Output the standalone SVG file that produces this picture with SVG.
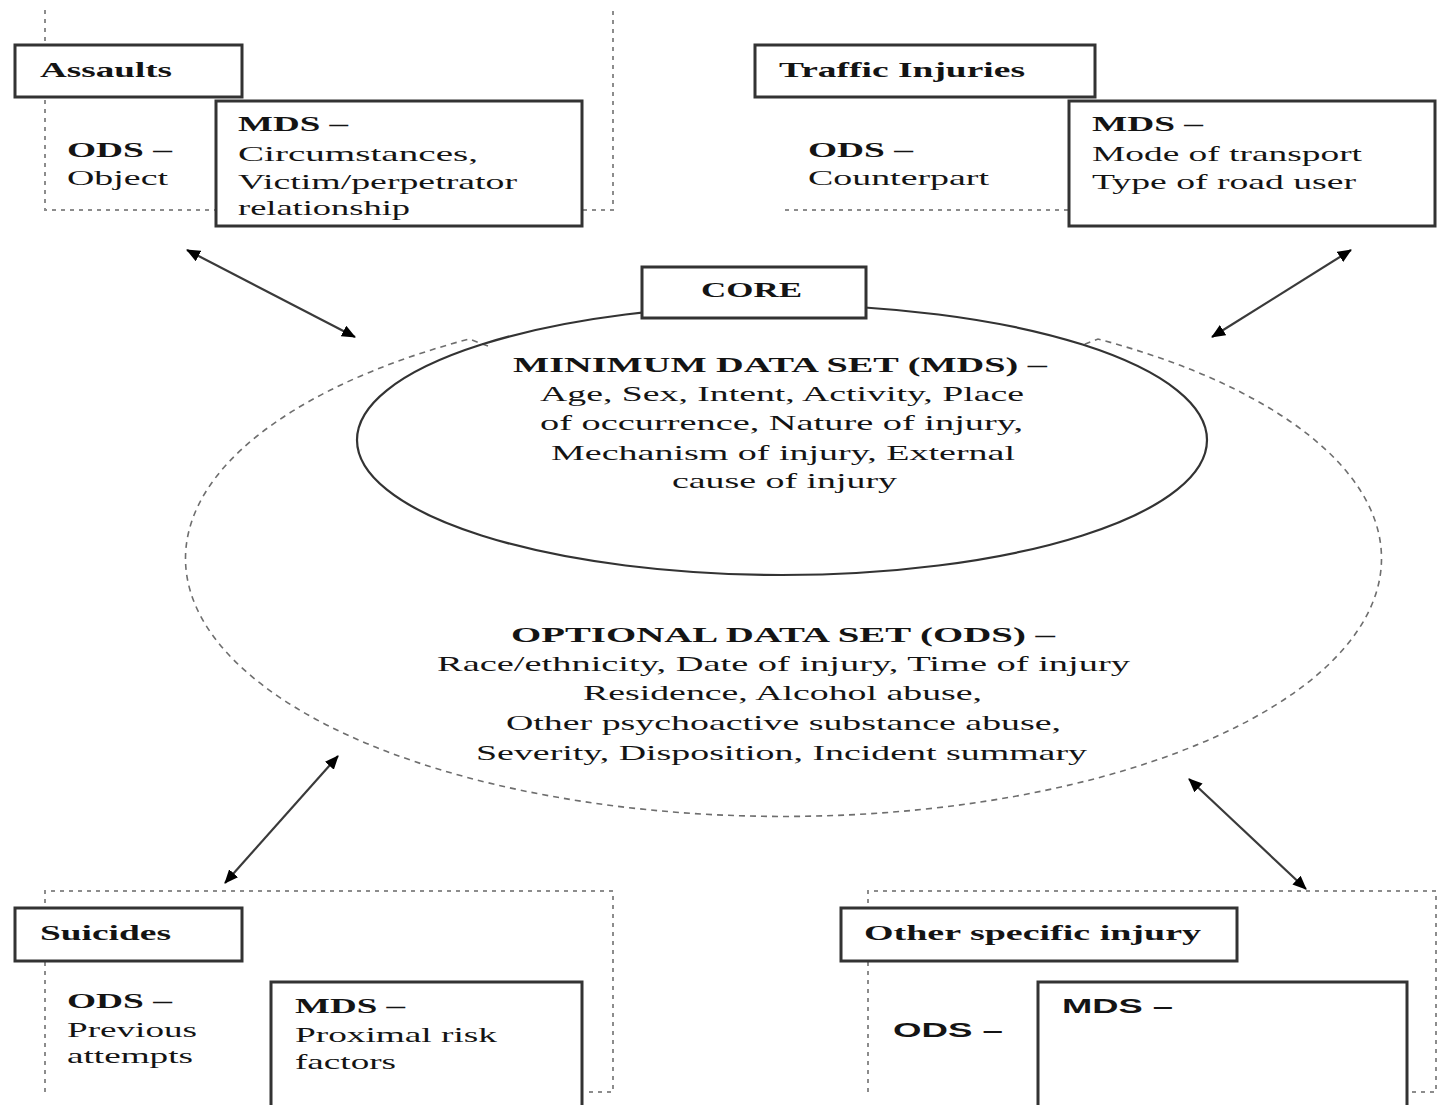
<svg xmlns="http://www.w3.org/2000/svg" width="1437" height="1105" viewBox="0 0 1437 1105">
  <style>
    .box { fill: #fff; stroke: #333; stroke-width: 3; }
    .frame { fill: none; stroke: #8c8c8c; stroke-width: 2; stroke-dasharray: 4 5; }
    .outer { fill: none; stroke: #6e6e6e; stroke-width: 1.6; stroke-dasharray: 6 5; }
    .inner { fill: none; stroke: #333; stroke-width: 2.2; }
    .link { stroke: #3a3a3a; stroke-width: 2.2; fill: none; marker-start: url(#head); marker-end: url(#head); }
    text { font-family: "Liberation Serif", "Times New Roman", serif; font-size: 22px; fill: #141414; }
    .h { font-weight: bold; }
    .s { font-family: "Liberation Sans", Arial, sans-serif; font-weight: bold; font-size: 20px; }
  </style>
  <defs>
    <marker id="head" viewBox="0 0 14 12" refX="13" refY="6" markerWidth="14" markerHeight="12" markerUnits="userSpaceOnUse" orient="auto-start-reverse">
      <path d="M0,0 L14,6 L0,12 Z" fill="#000"/>
    </marker>
  </defs>
  <rect width="1437" height="1105" fill="#fff"/>

  <!-- dotted module frames -->
  <g id="frames">
    <path class="frame" d="M45,10 V210 H215 M583,210 H613 V10"/>
    <path class="frame" d="M785,210 H1068"/>
    <path class="frame" d="M45,1092 V891 H613 V1092 H585"/>
    <path class="frame" d="M868,1092 V891 H1436 V1092 H1410"/>
  </g>

  <!-- core: optional and minimum data sets -->
  <g id="core">
    <path class="outer" d="M488,346 L469,339 A598,258 0 1,0 1098,339 L1080,346"/>
    <ellipse class="inner" cx="782" cy="440" rx="425" ry="135"/>
    <rect class="box" x="642" y="267" width="224" height="51"/>
    <text class="h" x="701" y="297" textLength="101" lengthAdjust="spacingAndGlyphs">CORE</text>
    <text class="h" x="513" y="372" textLength="534" lengthAdjust="spacingAndGlyphs">MINIMUM DATA SET (MDS) –</text>
    <text x="540" y="401" textLength="484" lengthAdjust="spacingAndGlyphs">Age, Sex, Intent, Activity, Place</text>
    <text x="540" y="430" textLength="483" lengthAdjust="spacingAndGlyphs">of occurrence, Nature of injury,</text>
    <text x="551" y="460" textLength="464" lengthAdjust="spacingAndGlyphs">Mechanism of injury, External</text>
    <text x="672" y="488" textLength="225" lengthAdjust="spacingAndGlyphs">cause of injury</text>
    <text class="h" x="511" y="642" textLength="544" lengthAdjust="spacingAndGlyphs">OPTIONAL DATA SET (ODS) –</text>
    <text x="437" y="671" textLength="693" lengthAdjust="spacingAndGlyphs">Race/ethnicity, Date of injury, Time of injury</text>
    <text x="583" y="700" textLength="399" lengthAdjust="spacingAndGlyphs">Residence, Alcohol abuse,</text>
    <text x="506" y="730" textLength="555" lengthAdjust="spacingAndGlyphs">Other psychoactive substance abuse,</text>
    <text x="476" y="760" textLength="611" lengthAdjust="spacingAndGlyphs">Severity, Disposition, Incident summary</text>
  </g>

  <!-- assaults module -->
  <g id="assaults">
    <rect class="box" x="15" y="45" width="227" height="52"/>
    <text class="h" x="40" y="77" textLength="132" lengthAdjust="spacingAndGlyphs">Assaults</text>
    <text class="h" x="67" y="157" textLength="105" lengthAdjust="spacingAndGlyphs">ODS –</text>
    <text x="67" y="185" textLength="101" lengthAdjust="spacingAndGlyphs">Object</text>
    <rect class="box" x="216" y="101" width="366" height="125"/>
    <text class="h" x="238" y="131" textLength="110" lengthAdjust="spacingAndGlyphs">MDS –</text>
    <text x="238" y="161" textLength="240" lengthAdjust="spacingAndGlyphs">Circumstances,</text>
    <text x="238" y="189" textLength="279" lengthAdjust="spacingAndGlyphs">Victim/perpetrator</text>
    <text x="238" y="215" textLength="172" lengthAdjust="spacingAndGlyphs">relationship</text>
  </g>

  <!-- traffic injuries module -->
  <g id="traffic">
    <rect class="box" x="755" y="45" width="340" height="52"/>
    <text class="h" x="779" y="77" textLength="246" lengthAdjust="spacingAndGlyphs">Traffic Injuries</text>
    <text class="h" x="808" y="157" textLength="105" lengthAdjust="spacingAndGlyphs">ODS –</text>
    <text x="808" y="185" textLength="181" lengthAdjust="spacingAndGlyphs">Counterpart</text>
    <rect class="box" x="1069" y="101" width="366" height="125"/>
    <text class="h" x="1092" y="131" textLength="111" lengthAdjust="spacingAndGlyphs">MDS –</text>
    <text x="1092" y="161" textLength="270" lengthAdjust="spacingAndGlyphs">Mode of transport</text>
    <text x="1092" y="189" textLength="264" lengthAdjust="spacingAndGlyphs">Type of road user</text>
  </g>

  <!-- suicides module -->
  <g id="suicides">
    <rect class="box" x="15" y="908" width="227" height="53"/>
    <text class="h" x="40" y="940" textLength="131" lengthAdjust="spacingAndGlyphs">Suicides</text>
    <text class="h" x="67" y="1008" textLength="105" lengthAdjust="spacingAndGlyphs">ODS –</text>
    <text x="67" y="1037" textLength="130" lengthAdjust="spacingAndGlyphs">Previous</text>
    <text x="67" y="1063" textLength="126" lengthAdjust="spacingAndGlyphs">attempts</text>
    <rect class="box" x="271" y="982" width="311" height="140"/>
    <text class="h" x="295" y="1013" textLength="110" lengthAdjust="spacingAndGlyphs">MDS –</text>
    <text x="295" y="1042" textLength="202" lengthAdjust="spacingAndGlyphs">Proximal risk</text>
    <text x="295" y="1069" textLength="101" lengthAdjust="spacingAndGlyphs">factors</text>
  </g>

  <!-- other specific injury module -->
  <g id="other">
    <rect class="box" x="841" y="908" width="396" height="53"/>
    <text class="h" x="864" y="940" textLength="337" lengthAdjust="spacingAndGlyphs">Other specific injury</text>
    <text class="s" x="893" y="1037" textLength="110" lengthAdjust="spacingAndGlyphs">ODS –</text>
    <rect class="box" x="1038" y="982" width="369" height="140"/>
    <text class="s" x="1062" y="1013" textLength="111" lengthAdjust="spacingAndGlyphs">MDS –</text>
  </g>

  <!-- two-way links between modules and core -->
  <g id="connectors">
    <line class="link" x1="187" y1="250" x2="355" y2="337"/>
    <line class="link" x1="1351" y1="250" x2="1212" y2="337"/>
    <line class="link" x1="338" y1="756" x2="225" y2="883"/>
    <line class="link" x1="1189" y1="779" x2="1306" y2="889"/>
  </g>
</svg>
